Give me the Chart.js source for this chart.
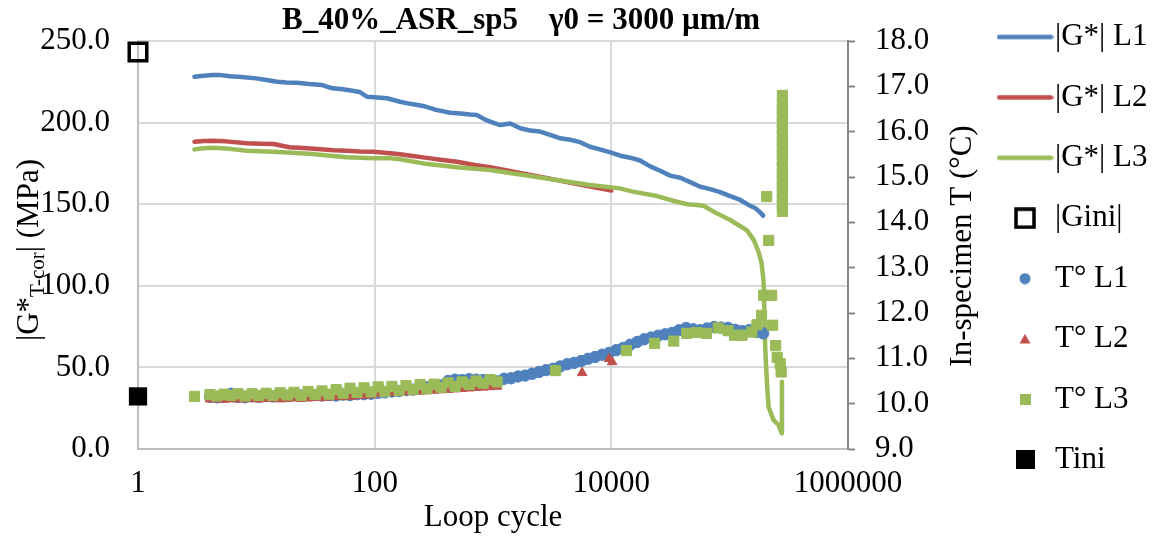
<!DOCTYPE html>
<html><head><meta charset="utf-8">
<script src="https://cdn.jsdelivr.net/npm/chart.js@4"></script>
<style>html,body{margin:0;padding:0;background:#fff}canvas{display:block}</style>
</head><body>
<canvas id="c" width="1159" height="537"></canvas>
<script>
// ---------- text ----------
const chartTitle = 'B_40%_ASR_sp5    \u03B30 = 3000 \u00B5m/m';
const xTitle = 'Loop cycle';
const leftTitleParts = ['|G*', 'T-cor', '| (MPa)'];
const rightTitle = 'In-specimen T (\u00B0C)';
const seriesNames = ['|G*| L1', '|G*| L2', '|G*| L3', '|Gini|', 'T\u00B0 L1', 'T\u00B0 L2', 'T\u00B0 L3', 'Tini'];
const xTickValues = [1, 100, 10000, 1000000];

// ---------- |G*| series (left axis, MPa) ----------
const gL1Cycles = [3,3.6,4.3,5,6,7.5,10,12.5,15,18,22,28,36,44,52,65,75,86,100,127,164,200,257,330,435,530,640,730,850,945,1150,1400,1700,2060,2500,3040,3700,4500,5450,6600,8000,9800,11900,14400,17500,21300,25900,31400,38200,46400,56400,68500,83200,101000,123000,149000,165000,181000,192000];
const gL1Values = [228.1,228.7,229.2,229.1,228.4,228.0,227.1,226.0,225.0,224.6,224.4,223.6,223.0,221.0,220.6,219.5,218.7,215.9,215.6,214.9,212.8,211.5,210.2,207.8,206.0,205.6,205.0,204.7,202.0,200.6,198.5,199.5,196.5,195.2,194.5,192.5,190.4,189.5,188.0,185.2,183.6,181.8,179.7,178.5,176.8,173.2,170.5,167.5,166.2,163.5,160.7,159.2,157.4,155.0,152.6,149.0,147.5,145.0,143.0];

const gL2Cycles = [3,3.6,4.3,5.5,8.3,11,14,19,25,35,45,58,75,98,135,164,210,257,360,495,700,945,10000];
const gL2Values = [188.3,188.7,188.9,188.5,187.3,187.0,186.9,184.9,184.5,183.6,183.0,182.8,182.3,182.2,181.2,180.6,179.5,178.7,177.2,176.0,174.0,172.6,158.4];

const gL3Cycles = [3,3.6,4.3,5.5,8.3,14,20,30,42,58,98,135,164,257,495,945,1810,3460,6600,11800,15200,24300,35800,44000,52500,60000,77800,101000,123000,140000,160000,175000,186000,193000,197000,199500,206000,213000,234500,258500,276000,276500];
const gL3Values = [183.6,184.3,184.6,184.2,182.8,182.2,181.5,180.8,179.7,178.7,178.1,178.1,177.5,175.0,172.6,171.0,167.9,164.8,161.8,159.7,157.7,155.0,151.5,150.0,149.5,149.0,144.4,140.3,136.5,134.0,128.0,121.0,114.0,103.6,83.3,62.7,42.3,25.9,17.8,14.7,9.6,41.2];

const giniCycles = [1];
const giniValues = [243.3];

// ---------- temperature series (right axis, °C) ----------
const tBandCycles = [4.06,4.65,5.33,6.11,7.0,8.03,9.2,10.5,12.1,13.8,15.9,18.2,20.8,23.9,27.4,31.4,35.9,41.2,47.2,54.1,61.9,71.0,81.4,93.2,107,122,140,161,184,211,242,277,318,364,417,478,548,628,720,825,945,1083];
const tLateCycles = [1241,1422,1629,1867,2140,2452,2810,3220,3690,4229,4845,5553,6364,7292,8356,9576,10973,12575,14410,16513,18923,21686,24849,28476,32633,37395,42855,49110,56276,64491,73906,84691,97055,111222,127445,146050,167370,191800];

const tL1Values = [10.15,10.14,10.16,10.22,10.15,10.14,10.16,10.15,10.17,10.16,10.18,10.17,10.19,10.18,10.20,10.19,
  10.18,10.19,10.18,10.20,10.19,10.21,10.21,10.22,10.24,10.25,10.27,10.28,10.30,10.31,10.34,10.36,10.38,10.40,
  10.50,10.53,10.52,10.54,10.53,10.52,10.49,10.49,
  10.55,10.56,10.60,10.62,10.66,10.70,10.74,10.77,10.82,10.87,10.90,10.94,10.99,11.03,11.08,11.12,11.18,11.23,11.30,11.36,
  11.42,11.46,11.50,11.53,11.56,11.62,11.67,11.64,11.62,11.66,11.69,11.68,11.67,11.63,11.60,11.62,11.58,11.55];

const tL2BandValues = [10.10,10.10,10.09,10.10,10.10,10.10,10.11,10.10,10.11,10.11,10.10,10.11,10.12,10.11,10.12,10.13,10.13,10.14,10.15,10.15,
  10.16,10.17,10.18,10.19,10.22,10.23,10.24,10.25,10.26,10.27,10.27,10.28,10.29,10.30,10.31,10.32,10.33,10.34,10.35,10.36,10.37,10.38];
const tL2LateCycles = [5663, 9576, 10160];
const tL2LateValues = [10.68, 10.99, 10.92];

const tL3FirstCycle = [3.0];
const tL3FirstValue = [10.16];
const tL3BandValues = [10.20,10.17,10.21,10.18,10.22,10.17,10.22,10.18,10.23,10.18,10.24,10.19,10.25,10.18,10.27,10.20,10.28,10.21,10.31,10.23,
  10.34,10.25,10.35,10.26,10.37,10.27,10.38,10.29,10.40,10.31,10.42,10.33,10.43,10.36,10.46,10.38,10.48,10.42,10.50,10.45,10.53,10.48];
const tL3LateCycles = [3380,13400,23200,33700,43400,52500,63600,80000,97000,110000,127000,154000,170000,186000,193800,205600,213700,226500,230900,244700,252000,267300,272400];
const tL3LateValues = [10.73,11.17,11.33,11.38,11.55,11.57,11.55,11.67,11.61,11.51,11.51,11.58,11.74,11.95,12.39,14.57,13.60,12.39,11.73,11.28,11.02,10.88,10.70];
const tL3BarCycle = 278800;
const tL3BarValues = [14.24,14.38,14.52,14.66,14.80,14.94,15.08,15.22,15.36,15.50,15.64,15.78,15.92,16.06,16.20,16.34,16.48,16.62,16.80];

const tiniCycles = [1];
const tiniValues = [10.16];

// ---------- styling ----------
const BLUE = '#4f81bd', RED = '#c0504d', GREEN = '#9bbb59';
const FONT = '"Liberation Serif", "Times New Roman", serif';
const TICK_SIZE = 31, LEG_SIZE = 31, LEG_PAD = 60.4 - 31, LEG_BOX = 60 - 31;
const PLOT_RIGHT = 848;

function pts(xs, ys) { return xs.map((x, i) => ({ x: x, y: ys[i] })); }

const tL1Cycles = tBandCycles.concat(tLateCycles);
const tL2Cycles = tBandCycles.concat(tL2LateCycles);
const tL2Values = tL2BandValues.concat(tL2LateValues);
const tL3Cycles = tL3FirstCycle.concat(tBandCycles, tL3LateCycles, tL3BarValues.map(() => tL3BarCycle));
const tL3Values = tL3FirstValue.concat(tL3BandValues, tL3LateValues, tL3BarValues);

// legend width estimate (so the right axis can fill the rest); corrected after first layout
const mctx = document.createElement('canvas').getContext('2d');
mctx.font = LEG_SIZE + 'px ' + FONT;
const maxLegText = Math.max.apply(null, seriesNames.map((s) => mctx.measureText(s).width));
const legendNatural = LEG_PAD + LEG_BOX + LEG_SIZE / 2 + maxLegText;
let rightAxisWidth = 1159 - PLOT_RIGHT - legendNatural;

// legend icons
function icon(w, h, fn) { const c = document.createElement('canvas'); c.width = w; c.height = h; fn(c.getContext('2d'), w, h); return c; }
function lineIcon(col) { return icon(57, 7, (g) => { g.strokeStyle = col; g.lineWidth = 4.5; g.lineCap = 'round'; g.beginPath(); g.moveTo(2.5, 3.5); g.lineTo(54.5, 3.5); g.stroke(); }); }
const legendIcons = [
  lineIcon(BLUE), lineIcon(RED), lineIcon(GREEN),
  icon(22, 22, (g) => { g.strokeStyle = '#000'; g.lineWidth = 3.5; g.strokeRect(2, 2, 18, 18); }),
  icon(12, 12, (g) => { g.fillStyle = BLUE; g.beginPath(); g.arc(6, 6, 5.5, 0, Math.PI * 2); g.fill(); }),
  icon(12, 11, (g) => { g.fillStyle = RED; g.beginPath(); g.moveTo(6, 0.5); g.lineTo(11.5, 10); g.lineTo(0.5, 10); g.closePath(); g.fill(); }),
  icon(11, 11, (g) => { g.fillStyle = GREEN; g.fillRect(0, 0, 11, 11); }),
  icon(19, 19, (g) => { g.fillStyle = '#000'; g.fillRect(0, 0, 19, 19); })
];

const lineDs = (i, xs, ys, col) => ({ label: seriesNames[i], data: pts(xs, ys), yAxisID: 'yG', showLine: true, borderColor: col, backgroundColor: col, borderWidth: 4.5, pointRadius: 0, tension: 0, borderCapStyle: 'round', borderJoinStyle: 'round', order: 8 - i });

const datasets = [
  lineDs(0, gL1Cycles, gL1Values, BLUE),
  lineDs(1, gL2Cycles, gL2Values, RED),
  lineDs(2, gL3Cycles, gL3Values, GREEN),
  { label: seriesNames[3], data: pts(giniCycles, giniValues), yAxisID: 'yG', showLine: false, pointStyle: 'rect', pointRadius: 12.4, backgroundColor: 'rgba(255,255,255,0)', borderColor: '#000', borderWidth: 3.5, clip: false, order: 5 },
  { label: seriesNames[4], data: pts(tL1Cycles, tL1Values), yAxisID: 'yT', showLine: false, pointStyle: 'circle', pointRadius: 5.7, backgroundColor: BLUE, borderColor: BLUE, borderWidth: 1, order: 4 },
  { label: seriesNames[5], data: pts(tL2Cycles, tL2Values), yAxisID: 'yT', showLine: false, pointStyle: 'triangle', pointRadius: 5.5, backgroundColor: RED, borderColor: RED, borderWidth: 1, order: 3 },
  { label: seriesNames[6], data: pts(tL3Cycles, tL3Values), yAxisID: 'yT', showLine: false, pointStyle: 'rect', pointRadius: 7.2, backgroundColor: GREEN, borderColor: GREEN, borderWidth: 1, order: 2 },
  { label: seriesNames[7], data: pts(tiniCycles, tiniValues), yAxisID: 'yT', showLine: false, pointStyle: 'rect', pointRadius: 12.9, backgroundColor: '#000', borderColor: '#000', borderWidth: 0, clip: false, order: 1 }
];

const decor = {
  id: 'decor',
  afterLayout(chart) {
    const lg = chart.legend; if (!lg) return;
    const w = lg.width, h = lg.height;
    lg.left = 1025 - LEG_BOX / 2 - LEG_PAD; lg.right = lg.left + w;
    lg.top = 37 - LEG_SIZE / 2 - LEG_PAD; lg.bottom = lg.top + h;
  },
  afterDraw(chart) {
    const ctx = chart.ctx;
    ctx.save();
    ctx.fillStyle = '#000';
    ctx.textBaseline = 'alphabetic';
    // chart title
    ctx.font = 'bold 31px ' + FONT;
    ctx.textAlign = 'center';
    ctx.fillText(chartTitle, 521, 29);
    // left axis title with subscript
    ctx.textAlign = 'left';
    const mainF = '31px ' + FONT, subF = '21px ' + FONT;
    ctx.font = mainF; const w1 = ctx.measureText(leftTitleParts[0]).width; const w3 = ctx.measureText(leftTitleParts[2]).width;
    ctx.font = subF; const w2 = ctx.measureText(leftTitleParts[1]).width;
    const tot = w1 + w2 + w3;
    ctx.save();
    ctx.translate(38, 250);
    ctx.rotate(-Math.PI / 2);
    let x = -tot / 2;
    ctx.font = mainF; ctx.fillText(leftTitleParts[0], x, 0); x += w1;
    ctx.font = subF; ctx.fillText(leftTitleParts[1], x, 6); x += w2;
    ctx.font = mainF; ctx.fillText(leftTitleParts[2], x, 0);
    ctx.restore();
    // right axis title
    ctx.save();
    ctx.translate(971, 246);
    ctx.rotate(-Math.PI / 2);
    ctx.font = mainF; ctx.textAlign = 'center';
    ctx.fillText(rightTitle, 0, 0);
    ctx.restore();
    ctx.restore();
  }
};

const chart = new Chart(document.getElementById('c'), {
  type: 'scatter',
  data: { datasets: datasets },
  options: {
    responsive: false,
    animation: false,
    devicePixelRatio: 1,
    events: [],
    layout: { padding: 0 },
    plugins: {
      tooltip: { enabled: false },
      title: { display: false },
      legend: {
        display: true,
        position: 'right',
        align: 'start',
        labels: {
          usePointStyle: true,
          pointStyleWidth: LEG_BOX,
          padding: LEG_PAD,
          color: '#000',
          font: { family: FONT, size: LEG_SIZE },
          sort: (a, b) => a.datasetIndex - b.datasetIndex,
          generateLabels(chart) {
            const items = Chart.defaults.plugins.legend.labels.generateLabels(chart);
            items.forEach((it) => { it.pointStyle = legendIcons[it.datasetIndex]; it.fontColor = '#000'; });
            return items;
          }
        }
      }
    },
    scales: {
      x: {
        type: 'logarithmic',
        position: 'bottom',
        min: 1, max: 1000000,
        afterBuildTicks: (axis) => { axis.ticks = xTickValues.map((v) => ({ value: v })); },
        afterFit: (s) => { s.height = 88; },
        ticks: { callback: (v) => String(v), autoSkip: false, maxRotation: 0, padding: 16, color: '#000', font: { family: FONT, size: TICK_SIZE } },
        grid: { color: '#d9d9d9', lineWidth: 2, drawTicks: false },
        border: { color: '#bfbfbf', width: 2 },
        title: { display: true, text: xTitle, color: '#000', font: { family: FONT, size: 31 }, padding: { top: 0, bottom: 1 } }
      },
      yG: {
        type: 'linear',
        position: 'left',
        min: 0, max: 250,
        afterFit: (s) => { s.width = 138; s.paddingTop = 41; },
        ticks: { stepSize: 50, callback: (v) => Number(v).toFixed(1), padding: 28, color: '#000', font: { family: FONT, size: TICK_SIZE } },
        grid: { color: '#d9d9d9', lineWidth: 2, drawTicks: false },
        border: { color: '#bfbfbf', width: 2 }
      },
      yT: {
        type: 'linear',
        position: 'right',
        min: 9, max: 18,
        afterFit: (s) => { s.width = rightAxisWidth; },
        ticks: { stepSize: 1, callback: (v) => Number(v).toFixed(1), padding: 20, color: '#000', font: { family: FONT, size: TICK_SIZE } },
        grid: { drawOnChartArea: false, drawTicks: true, tickLength: 7, tickColor: '#868686', tickWidth: 2 },
        border: { color: '#868686', width: 2 }
      }
    }
  },
  plugins: [decor]
});

// make the plot area end exactly at PLOT_RIGHT
const diff = chart.chartArea.right - PLOT_RIGHT;
if (Math.abs(diff) > 0.25) { rightAxisWidth += diff; chart.update(); }
</script>
</body></html>
